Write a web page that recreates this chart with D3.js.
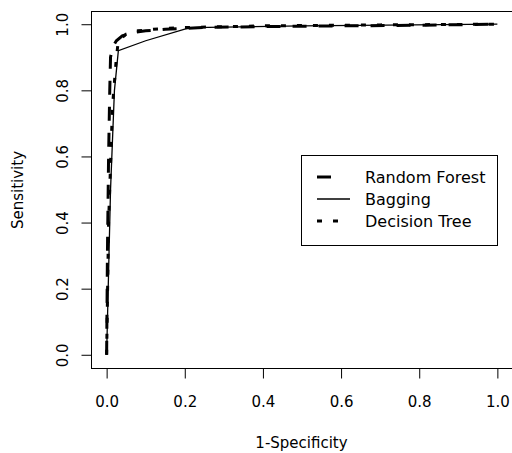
<!DOCTYPE html>
<html>
<head>
<meta charset="utf-8">
<script src="https://cdn.jsdelivr.net/npm/d3@7"></script>
<style>
body{margin:0;background:#fff;}
text{font-family:'DejaVu Sans',Arial,sans-serif;fill:#000;}
</style>
</head>
<body>
<div id="canvas"></div>
<script>
// ROC curves
var models = ['Random Forest','Bagging','Decision Tree'];
var rfX = [0,0.002,0.005,0.008,0.01,0.015,0.025,0.04,0.07,0.1,0.15,0.25,0.4,0.6,0.8,1];
var rfY = [0,0.3,0.6,0.8,0.9,0.93,0.95,0.965,0.975,0.98,0.985,0.99,0.993,0.995,0.997,1];
var bagX = [0,0.01,0.02,0.03,0.1,0.2,0.22,0.5,1];
var bagY = [0,0.5,0.8,0.92,0.95,0.985,0.99,0.995,1];
var dtX = [0,0.005,0.015,0.025,0.03,0.05,0.08,0.12,0.2,0.4,0.7,1];
var dtY = [0,0.4,0.75,0.9,0.95,0.97,0.98,0.985,0.99,0.995,0.998,1];
var ticks = [0,0.2,0.4,0.6,0.8,1.0];

var W = 512, H = 453;
var m = {t:11,r:-1,b:85,l:91};

var svg = d3.select('#canvas')
    .append('svg')
    .attr('width',W)
    .attr('height',H);

var scaleX = d3.scaleLinear().domain([-0.04,1.04]).range([m.l,W-m.r]),
    scaleY = d3.scaleLinear().domain([-0.04,1.04]).range([H-m.b,m.t]);

function pts(xs,ys){
	return xs.map(function(d,i){return [d,ys[i]];});
}
var series = [
	{name:models[0],data:pts(rfX,rfY),dash:'14,12',width:3,x2:332},
	{name:models[1],data:pts(bagX,bagY),dash:null,width:1.3,x2:350},
	{name:models[2],data:pts(dtX,dtY),dash:'5,11',width:3,x2:339}
];

var line = d3.line()
    .x(function(d){return scaleX(d[0]);})
    .y(function(d){return scaleY(d[1]);});

svg.selectAll('.curve')
    .data(series)
    .enter().append('path')
    .attr('class','curve')
    .attr('d',function(d){return line(d.data);})
    .attr('fill','none')
    .attr('stroke','#000')
    .attr('stroke-width',function(d){return d.width;})
    .attr('stroke-dasharray',function(d){return d.dash;});

//box
svg.append('rect')
    .attr('x',m.l+0.5)
    .attr('y',m.t+0.5)
    .attr('width',W-m.r-m.l)
    .attr('height',H-m.b-m.t)
    .attr('fill','none')
    .attr('stroke','#000');

//axes
var axisX = d3.axisBottom(scaleX).tickValues(ticks).tickSize(10).tickPadding(18)
    .tickFormat(d3.format('.1f')),
    axisY = d3.axisLeft(scaleY).tickValues(ticks).tickSize(10)
    .tickFormat(d3.format('.1f'));

var gx = svg.append('g')
    .attr('transform','translate(0,' + (H-m.b+0.5) + ')')
    .call(axisX);
gx.select('.domain').remove();
gx.selectAll('text').style('font-size','15px');

var gy = svg.append('g')
    .attr('transform','translate(' + (m.l+0.5) + ',0)')
    .call(axisY);
gy.select('.domain').remove();
gy.selectAll('text')
    .style('font-size','15px')
    .attr('text-anchor','middle')
    .attr('x',0)
    .attr('y',0)
    .attr('dy','0.35em')
    .attr('transform','translate(-29,0) rotate(-90)');

svg.append('text')
    .attr('x',(m.l+W)/2)
    .attr('y',H-5)
    .attr('text-anchor','middle')
    .style('font-size','15px')
    .text('1-Specificity');

svg.append('text')
    .attr('transform','translate(23,190) rotate(-90)')
    .attr('text-anchor','middle')
    .style('font-size','15px')
    .text('Sensitivity');

//legend
var lg = svg.append('g');
lg.append('rect')
    .attr('x',301.5).attr('y',155.5)
    .attr('width',196).attr('height',90)
    .attr('fill','#fff').attr('stroke','#000');
var rows = lg.selectAll('.row')
    .data(series)
    .enter().append('g')
    .attr('class','row')
    .attr('transform',function(d,i){return 'translate(0,' + (177 + i*22) + ')';});
rows.append('line')
    .attr('x1',317).attr('x2',function(d){return d.x2;})
    .attr('stroke','#000')
    .attr('stroke-width',function(d){return d.width;})
    .attr('stroke-dasharray',function(d){return d.dash;});
rows.append('text')
    .attr('x',365)
    .attr('dy','0.35em')
    .style('font-size','16px')
    .text(function(d){return d.name;});
</script>
</body>
</html>
